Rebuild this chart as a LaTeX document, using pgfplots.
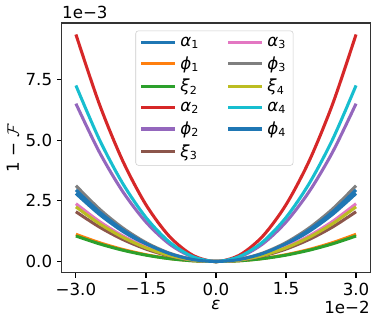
\documentclass[border=0pt]{standalone}
\usepackage{fontspec}
\setmainfont{DejaVu Sans}
\usepackage{pgfplots}
\pgfplotsset{compat=1.18}
\usepackage{pgfplotstable}
\usetikzlibrary{calc}

\definecolor{c0}{HTML}{1F77B4}
\definecolor{c1}{HTML}{FF7F0E}
\definecolor{c2}{HTML}{2CA02C}
\definecolor{c3}{HTML}{D62728}
\definecolor{c4}{HTML}{9467BD}
\definecolor{c5}{HTML}{8C564B}
\definecolor{c6}{HTML}{E377C2}
\definecolor{c7}{HTML}{7F7F7F}
\definecolor{c8}{HTML}{BCBD22}
\definecolor{c9}{HTML}{17BECF}

% eps in units of 1e-2, 1-F in units of 1e-3
\pgfplotstableread{
x    aA     pA     xB     aB     pB     xC     aC     pC     xD     aD     pD
-3.0 2.80   1.12   1.05   9.35   6.50   2.05   2.38   3.12   2.25   7.25   2.95
-2.5 1.9444 0.7778 0.7292 6.4931 4.5139 1.4236 1.6528 2.1667 1.5625 5.0347 2.0486
-2.0 1.2444 0.4978 0.4667 4.1556 2.8889 0.9111 1.0578 1.3867 1.0000 3.2222 1.3111
-1.5 0.7000 0.2800 0.2625 2.3375 1.6250 0.5125 0.5950 0.7800 0.5625 1.8125 0.7375
-1.0 0.3111 0.1244 0.1167 1.0389 0.7222 0.2278 0.2644 0.3467 0.2500 0.8056 0.3278
-0.5 0.0778 0.0311 0.0292 0.2597 0.1806 0.0569 0.0661 0.0867 0.0625 0.2014 0.0819
 0.0 0      0      0      0      0      0      0      0      0      0      0
 0.5 0.0778 0.0311 0.0292 0.2597 0.1806 0.0569 0.0661 0.0867 0.0625 0.2014 0.0819
 1.0 0.3111 0.1244 0.1167 1.0389 0.7222 0.2278 0.2644 0.3467 0.2500 0.8056 0.3278
 1.5 0.7000 0.2800 0.2625 2.3375 1.6250 0.5125 0.5950 0.7800 0.5625 1.8125 0.7375
 2.0 1.2444 0.4978 0.4667 4.1556 2.8889 0.9111 1.0578 1.3867 1.0000 3.2222 1.3111
 2.5 1.9444 0.7778 0.7292 6.4931 4.5139 1.4236 1.6528 2.1667 1.5625 5.0347 2.0486
 3.0 2.80   1.12   1.05   9.35   6.50   2.05   2.38   3.12   2.25   7.25   2.95
}\fid

\begin{document}
\begin{tikzpicture}
\begin{axis}[
    name=ax,
    scale only axis,
    width=222pt, height=180pt,
    xmin=-3.3, xmax=3.3,
    ymin=-0.47, ymax=9.82,
    xtick={-3,-1.5,0,1.5,3},
    xticklabels={−3.0,−1.5,0.0,1.5,3.0},
    ytick={0,2.5,5,7.5},
    yticklabels={0.0,2.5,5.0,7.5},
    tick align=outside,
    tick pos=left,
    major tick length=3.5pt,
    every tick/.style={black, line width=0.8pt},
    axis line style={black!80, line width=0.8pt},
    ticklabel style={font=\fontsize{12}{14}\selectfont},
    xlabel={\textit{ε}},
    ylabel={1 − {\large$\mathcal{F}$}},
    label style={font=\fontsize{12}{14}\selectfont},
    xlabel style={yshift=3pt},
    ylabel style={yshift=-2pt},
    legend columns=6,
    transpose legend,
    legend cell align=left,
    legend style={
        at={(0.495,0.97)}, anchor=north,
        draw=black!20, rounded corners=2pt,
        fill=white, fill opacity=0.8, text opacity=1,
        font=\fontsize{12}{14}\selectfont,
        inner xsep=3pt, inner ysep=2.5pt,
        /tikz/every odd column/.style={column sep=1pt},
        /tikz/column 2/.style={column sep=18pt},
        row sep=1.8pt,
    },
    legend image code/.code={
        \draw[#1, line width=2.2pt] (0pt,0pt) -- (24pt,0pt);
    },
    every axis plot/.append style={line width=2.2pt, smooth},
]
\addplot[c0] table[x=x, y=aA] {\fid};
\addlegendentry{\textit{α}\textsubscript{1}}
\addplot[c1] table[x=x, y=pA] {\fid};
\addlegendentry{\textit{ϕ}\textsubscript{1}}
\addplot[c2] table[x=x, y=xB] {\fid};
\addlegendentry{\textit{ξ}\textsubscript{2}}
\addplot[c3] table[x=x, y=aB] {\fid};
\addlegendentry{\textit{α}\textsubscript{2}}
\addplot[c4] table[x=x, y=pB] {\fid};
\addlegendentry{\textit{ϕ}\textsubscript{2}}
\addplot[c5] table[x=x, y=xC] {\fid};
\addlegendentry{\textit{ξ}\textsubscript{3}}
\addplot[c6] table[x=x, y=aC] {\fid};
\addlegendentry{\textit{α}\textsubscript{3}}
\addplot[c7] table[x=x, y=pC] {\fid};
\addlegendentry{\textit{ϕ}\textsubscript{3}}
\addplot[c8] table[x=x, y=xD] {\fid};
\addlegendentry{\textit{ξ}\textsubscript{4}}
\addplot[c9] table[x=x, y=aD] {\fid};
\addlegendentry{\textit{α}\textsubscript{4}}
\addplot[c0] table[x=x, y=pD] {\fid};
\addlegendentry{\textit{ϕ}\textsubscript{4}}
\end{axis}
\node[anchor=south west, inner sep=0pt, font=\fontsize{12}{14}\selectfont]
    at ($(ax.north west)+(0pt,3pt)$) {1e−3};
\node[anchor=north east, inner sep=0pt, font=\fontsize{12}{14}\selectfont]
    at ($(ax.south east)+(0pt,-20pt)$) {1e−2};
\path[use as bounding box] ($(ax.south west)+(-44.6pt,-36.7pt)$)
    rectangle ($(ax.north east)+(5pt,16.6pt)$);
\end{tikzpicture}
\end{document}
